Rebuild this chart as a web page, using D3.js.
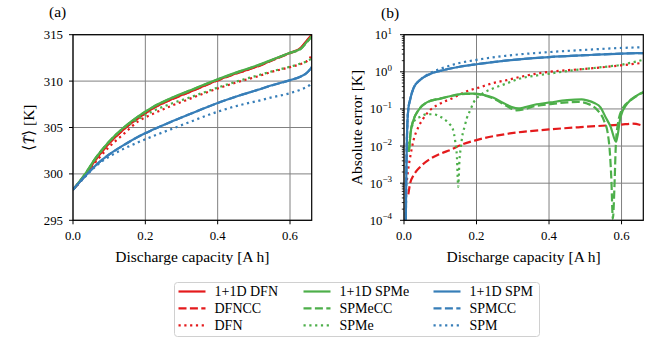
<!DOCTYPE html>
<html>
<head>
<meta charset="utf-8">
<script src="https://cdn.jsdelivr.net/npm/d3@7"></script>
<style>
	body { margin: 0; background: #fff; }
	svg { display: block; font-family: 'Liberation Serif', 'Times New Roman', serif; }
	.grid line { stroke: #808080; stroke-width: 1; }
	.tick-label { font-size: 12.8px; fill: #000; }
	.axis-label { font-size: 15.5px; fill: #000; }
	.legend-label { font-size: 14px; fill: #000; }
</style>
</head>
<body>
<div id="chart"></div>
<script>
// ---- data: panel (a) mean temperature [K] ----
const capacity = [0, 0.03, 0.065, 0.1, 0.14, 0.18, 0.22, 0.27, 0.32, 0.4, 0.46, 0.51, 0.55, 0.6, 0.63, 0.645, 0.655, 0.66];
const temp1dDfn = [298.3, 299.7, 301.65, 303.3, 304.8, 306.0, 307.05, 308.0, 308.8, 310.1, 310.95, 311.6, 312.25, 313.05, 313.6, 314.3, 314.75, 315.0];
const tempDfnCC = [298.3, 299.69, 301.64, 303.29, 304.79, 305.99, 307.03, 307.98, 308.78, 310.07, 310.92, 311.57, 312.21, 313.01, 313.56, 314.26, 314.71, 314.97];
const tempDfn = [298.3, 299.6, 301.4, 302.9, 304.3, 305.65, 306.45, 307.3, 308.05, 309.2, 309.95, 310.5, 311.0, 311.5, 311.85, 312.1, 312.45, 312.9];
const temp1dSpme = [298.3, 299.8, 301.85, 303.5, 305.0, 306.2, 307.2, 308.15, 308.95, 310.2, 311.05, 311.7, 312.3, 313.05, 313.5, 314.15, 314.6, 314.85];
const tempSpmeCC = [298.3, 299.79, 301.83, 303.48, 304.97, 306.17, 307.17, 308.13, 308.92, 310.17, 311.02, 311.67, 312.27, 313.03, 313.47, 314.12, 314.57, 314.82];
const tempSpme = [298.3, 299.75, 301.8, 303.45, 304.95, 305.9, 306.75, 307.55, 308.2, 309.3, 310.05, 310.6, 311.05, 311.55, 311.9, 312.1, 312.3, 312.5];
const temp1dSpm = [298.3, 299.6, 301.0, 302.1, 303.1, 304.0, 304.75, 305.6, 306.4, 307.65, 308.45, 309.05, 309.55, 310.1, 310.5, 310.85, 311.25, 311.55];
const tempSpmCC = [298.3, 299.6, 300.99, 302.09, 303.09, 303.99, 304.74, 305.59, 306.39, 307.64, 308.44, 309.04, 309.54, 310.09, 310.49, 310.84, 311.24, 311.54];
const tempSpm = [298.3, 299.55, 300.9, 301.85, 302.7, 303.4, 304.05, 304.8, 305.55, 306.7, 307.4, 307.85, 308.25, 308.7, 309.1, 309.35, 309.6, 309.8];

// ---- data: panel (b) absolute error [K] ----
const capDfnCC = [0.012, 0.017, 0.026, 0.044, 0.072, 0.1, 0.13, 0.155, 0.2, 0.28, 0.4, 0.5, 0.6, 0.63, 0.66];
const errDfnCC = [5e-4, 1e-3, 1.6e-3, 2.7e-3, 4.5e-3, 6.2e-3, 8e-3, 0.0105, 0.0145, 0.021, 0.028, 0.033, 0.038, 0.04, 0.035];
const capDfn = [0.008, 0.012, 0.017, 0.026, 0.04, 0.053, 0.072, 0.1, 0.136, 0.173, 0.204, 0.247, 0.284, 0.339, 0.4, 0.5, 0.6, 0.66];
const errDfn = [1.2e-3, 2.5e-3, 5e-3, 0.014, 0.033, 0.055, 0.093, 0.14, 0.2, 0.3, 0.37, 0.5, 0.6, 0.8, 1.0, 1.2, 1.5, 1.75];
const cap1dSpme = [0.013, 0.015, 0.018, 0.026, 0.04, 0.063, 0.1, 0.136, 0.17, 0.192, 0.219, 0.247, 0.274, 0.297, 0.315, 0.332, 0.36, 0.404, 0.45, 0.49, 0.505, 0.525, 0.542, 0.556, 0.57, 0.585, 0.597, 0.616, 0.644, 0.66];
const err1dSpme = [0.007, 0.01, 0.022, 0.05, 0.093, 0.15, 0.19, 0.23, 0.26, 0.26, 0.24, 0.2, 0.145, 0.113, 0.103, 0.11, 0.13, 0.15, 0.172, 0.18, 0.17, 0.145, 0.11, 0.06, 0.033, 0.013, 0.06, 0.14, 0.235, 0.28];
const capSpmeCC = [0.013, 0.015, 0.018, 0.026, 0.04, 0.063, 0.1, 0.136, 0.17, 0.192, 0.219, 0.247, 0.274, 0.295, 0.31, 0.33, 0.36, 0.404, 0.45, 0.48, 0.505, 0.533, 0.551, 0.562, 0.568, 0.572, 0.576, 0.581, 0.584, 0.59, 0.602, 0.625, 0.66];
const errSpmeCC = [0.007, 0.01, 0.022, 0.05, 0.093, 0.15, 0.19, 0.23, 0.255, 0.255, 0.235, 0.19, 0.135, 0.103, 0.092, 0.097, 0.118, 0.135, 0.15, 0.155, 0.14, 0.094, 0.05, 0.022, 0.0063, 1.2e-3, 1.1e-4, 1.2e-3, 0.0095, 0.04, 0.1, 0.17, 0.28];
const capSpme = [0.012, 0.018, 0.03, 0.044, 0.063, 0.08, 0.1, 0.112, 0.125, 0.135, 0.141, 0.146, 0.1495, 0.153, 0.157, 0.1605, 0.167, 0.173, 0.183, 0.192, 0.204, 0.219, 0.247, 0.284, 0.32, 0.367, 0.404, 0.45, 0.5, 0.55, 0.6, 0.63, 0.66];
const errSpme = [0.008, 0.022, 0.05, 0.061, 0.072, 0.072, 0.062, 0.052, 0.04, 0.028, 0.014, 0.005, 8e-4, 0.0042, 0.0095, 0.018, 0.033, 0.055, 0.094, 0.15, 0.21, 0.27, 0.36, 0.49, 0.66, 0.8, 0.9, 1.05, 1.2, 1.35, 1.55, 1.8, 2.1];
const cap1dSpm = [0.005, 0.0065, 0.008, 0.0095, 0.012, 0.017, 0.026, 0.044, 0.072, 0.1, 0.15, 0.2, 0.28, 0.4, 0.5, 0.6, 0.66];
const err1dSpm = [1e-4, 2e-3, 0.015, 0.045, 0.1, 0.18, 0.36, 0.6, 0.88, 1.06, 1.35, 1.6, 2.0, 2.5, 2.8, 3.1, 3.2];
const errSpmCC = [1e-4, 2e-3, 0.015, 0.045, 0.1, 0.18, 0.36, 0.6, 0.88, 1.06, 1.35, 1.6, 2.0, 2.5, 2.8, 3.1, 3.2];
const errSpm = [1e-4, 2e-3, 0.015, 0.045, 0.1, 0.18, 0.36, 0.6, 0.92, 1.2, 1.7, 2.1, 2.7, 3.4, 3.9, 4.4, 4.6];

// ---- ticks ----
const capTicks = [0.0, 0.2, 0.4, 0.6];
const tempTicks = [295, 300, 305, 310, 315];
const errTicks = [-4, -3, -2, -1, 0, 1];

const width = 664;
const height = 350;
const red = '#e41a1c', green = '#4daf4a', blue = '#377eb8';
const dash = { solid: null, dashed: '8,3.4', dotted: '2.2,3.6' };

const zip = (xs, ys) => xs.map((x, i) => [x, ys[i]]);

const models = [
	{ name: '1+1D DFN', color: red, style: 'solid', temp: temp1dDfn, err: null },
	{ name: 'DFNCC', color: red, style: 'dashed', temp: tempDfnCC, err: zip(capDfnCC, errDfnCC) },
	{ name: 'DFN', color: red, style: 'dotted', temp: tempDfn, err: zip(capDfn, errDfn) },
	{ name: '1+1D SPMe', color: green, style: 'solid', temp: temp1dSpme, err: zip(cap1dSpme, err1dSpme) },
	{ name: 'SPMeCC', color: green, style: 'dashed', temp: tempSpmeCC, err: zip(capSpmeCC, errSpmeCC) },
	{ name: 'SPMe', color: green, style: 'dotted', temp: tempSpme, err: zip(capSpme, errSpme) },
	{ name: '1+1D SPM', color: blue, style: 'solid', temp: temp1dSpm, err: zip(cap1dSpm, err1dSpm) },
	{ name: 'SPMCC', color: blue, style: 'dashed', temp: tempSpmCC, err: zip(cap1dSpm, errSpmCC) },
	{ name: 'SPM', color: blue, style: 'dotted', temp: tempSpm, err: zip(cap1dSpm, errSpm) }
];

const svg = d3.select('#chart').append('svg')
	.attr('width', width)
	.attr('height', height);

const plotTop = 34.7, plotBottom = 220.3;

const drawPanel = (id, left, right, y, yTicks, yTickText, key, yLabel) => {
	const x = d3.scaleLinear().domain([0, 0.66]).range([left, right]);
	const g = svg.append('g');

	svg.append('clipPath').attr('id', `clip-${id}`)
		.append('rect')
		.attr('x', left).attr('y', plotTop)
		.attr('width', right - left).attr('height', plotBottom - plotTop);

	// grid
	const grid = g.append('g').attr('class', 'grid');
	grid.selectAll('.vx').data(capTicks).enter().append('line')
		.attr('x1', d => x(d)).attr('x2', d => x(d))
		.attr('y1', plotTop).attr('y2', plotBottom);
	grid.selectAll('.hy').data(yTicks).enter().append('line')
		.attr('x1', left).attr('x2', right)
		.attr('y1', d => y(d)).attr('y2', d => y(d));

	// lines
	const line = d3.line()
		.x(d => x(d[0]))
		.y(d => y(d[1]))
		.curve(d3.curveMonotoneX);
	g.append('g').attr('clip-path', `url(#clip-${id})`)
		.selectAll('path')
		.data(models.filter(m => key(m)))
		.enter().append('path')
			.attr('d', m => line(key(m)))
			.attr('fill', 'none')
			.attr('stroke', m => m.color)
			.attr('stroke-width', 2.2)
			.attr('stroke-dasharray', m => dash[m.style]);

	// frame
	g.append('rect')
		.attr('x', left).attr('y', plotTop)
		.attr('width', right - left).attr('height', plotBottom - plotTop)
		.attr('fill', 'none')
		.attr('stroke', '#000')
		.attr('stroke-width', 1.2);

	// x ticks
	g.selectAll('.xt').data(capTicks).enter().append('line')
		.attr('x1', d => x(d)).attr('x2', d => x(d))
		.attr('y1', plotBottom).attr('y2', plotBottom + 4)
		.attr('stroke', '#000');
	g.selectAll('.xl').data(capTicks).enter().append('text')
		.attr('class', 'tick-label')
		.attr('x', d => x(d))
		.attr('y', plotBottom + 19.5)
		.attr('text-anchor', 'middle')
		.text(d => d.toFixed(1));

	// y ticks
	g.selectAll('.yt').data(yTicks).enter().append('line')
		.attr('x1', left - 4).attr('x2', left)
		.attr('y1', d => y(d)).attr('y2', d => y(d))
		.attr('stroke', '#000');
	yTickText(g, left);

	g.append('text')
		.attr('class', 'axis-label')
		.attr('x', (left + right) / 2)
		.attr('y', 262)
		.attr('text-anchor', 'middle')
		.text('Discharge capacity [A h]');

	g.append('text')
		.attr('class', 'axis-label')
		.attr('transform', `translate(${yLabel.x}, ${(plotTop + plotBottom) / 2}) rotate(-90)`)
		.attr('text-anchor', 'middle')
		.attr('dominant-baseline', 'central')
		.call(yLabel.build);

	return x;
};

// panel (a)
const yTemp = d3.scaleLinear().domain([295, 315]).range([plotBottom, plotTop]);
drawPanel('a', 73, 311.7, yTemp, tempTicks,
	(g, left) => {
		g.selectAll('.yl').data(tempTicks).enter().append('text')
			.attr('class', 'tick-label')
			.attr('x', left - 10)
			.attr('y', d => yTemp(d))
			.attr('dy', '0.35em')
			.attr('text-anchor', 'end')
			.text(d => d);
	},
	m => zip(capacity, m.temp),
	{ x: 28, build: t => {
		t.append('tspan').text('\u27E8');
		t.append('tspan').attr('font-style', 'italic').text('T\u0304');
		t.append('tspan').text('\u27E9 [K]');
	} });

// panel (b)
const yErr = d3.scaleLog().domain([1e-4, 10]).range([plotBottom, plotTop]);
const errTickValues = errTicks.map(e => Math.pow(10, e));
drawPanel('b', 404, 643.3, yErr, errTickValues,
	(g, left) => {
		const minor = [];
		errTicks.slice(0, -1).forEach(e => {
			for (let k = 2; k <= 9; k++) minor.push(k * Math.pow(10, e));
		});
		g.selectAll('.ym').data(minor).enter().append('line')
			.attr('x1', left - 2.2).attr('x2', left)
			.attr('y1', d => yErr(d)).attr('y2', d => yErr(d))
			.attr('stroke', '#000')
			.attr('stroke-width', 0.8);
		const labels = g.selectAll('.yl').data(errTicks).enter().append('text')
			.attr('class', 'tick-label')
			.attr('x', left - 12)
			.attr('y', d => yErr(Math.pow(10, d)) + 4.5)
			.attr('text-anchor', 'end');
		labels.append('tspan').text('10');
		labels.append('tspan')
			.attr('dy', -5.5)
			.attr('font-size', '9px')
			.text(d => d < 0 ? `\u2212${-d}` : `${d}`);
	},
	m => m.err,
	{ x: 356, build: t => t.text('Absolute error [K]') });

// panel letters
svg.append('text').attr('class', 'axis-label').attr('x', 49).attr('y', 17).text('(a)');
svg.append('text').attr('class', 'axis-label').attr('x', 381).attr('y', 18).text('(b)');

// legend
const legend = svg.append('g');
legend.append('rect')
	.attr('x', 174.5).attr('y', 282.5)
	.attr('width', 365).attr('height', 54)
	.attr('rx', 3)
	.attr('fill', '#fff')
	.attr('stroke', '#d0d0d0');
const colX = [178.5, 303.5, 433.5];
const rowY = [291.5, 308.3, 325.3];
const entry = legend.selectAll('.entry')
	.data(models)
	.enter().append('g')
		.attr('transform', (d, i) => `translate(${colX[Math.floor(i / 3)]}, ${rowY[i % 3]})`);
entry.append('line')
	.attr('x1', 0).attr('x2', 27)
	.attr('stroke', d => d.color)
	.attr('stroke-width', 2.2)
	.attr('stroke-dasharray', d => dash[d.style]);
entry.append('text')
	.attr('class', 'legend-label')
	.attr('x', 36)
	.attr('dy', '0.35em')
	.text(d => d.name);
</script>
</body>
</html>
